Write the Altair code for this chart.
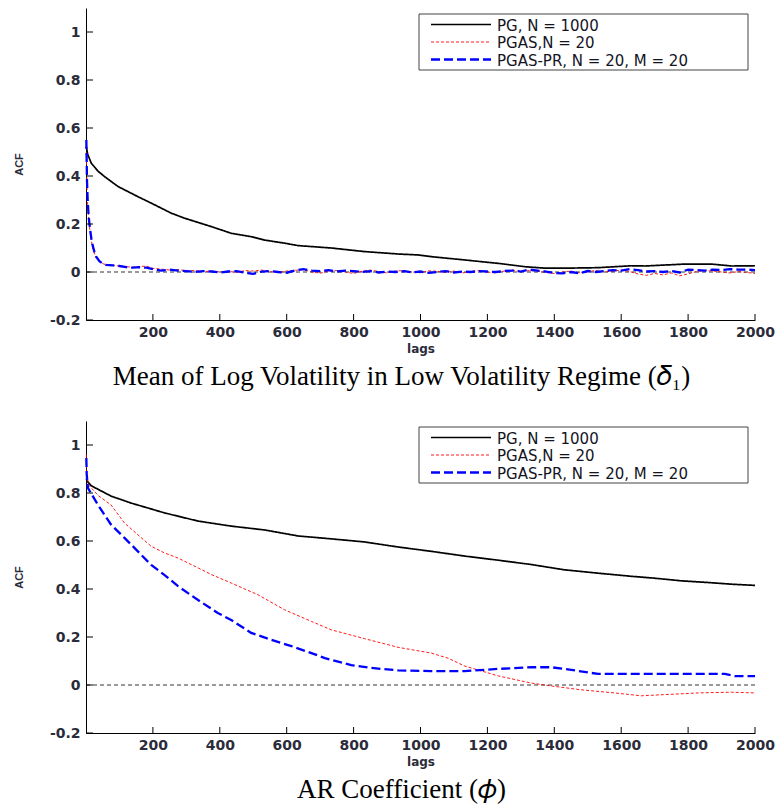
import altair as alt
import pandas as pd

SERIES = ["PG, N = 1000", "PGAS,N = 20", "PGAS-PR, N = 20, M = 20"]
COLORS = ["#000000", "#ff0000", "#0000ff"]
DASHES = [[1, 0], [3, 2], [9, 4]]
WIDTHS = [1.7, 0.9, 2.3]

X_TICKS = [200, 400, 600, 800, 1000, 1200, 1400, 1600, 1800, 2000]
Y_TICKS = [-0.2, 0, 0.2, 0.4, 0.6, 0.8, 1]

TITLE_TOP = "Mean of Log Volatility in Low Volatility Regime (\U0001D6FF\u2081)"
TITLE_BOTTOM = "AR Coefficient (\U0001D719)"

# ---- Panel 1: delta_1 ----
top_pg_lag = [1, 5, 16, 36, 56, 96, 155, 195, 255, 295, 375, 435, 495, 534, 594, 634,
              733, 833, 933, 993, 1032, 1133, 1232, 1312, 1372, 1432, 1531, 1630, 1670,
              1790, 1870, 1930, 2000]
top_pg_acf = [0.522, 0.49, 0.453, 0.42, 0.397, 0.356, 0.314, 0.287, 0.245, 0.224, 0.189,
              0.161, 0.147, 0.133, 0.12, 0.110, 0.1, 0.085, 0.075, 0.071, 0.064, 0.05,
              0.036, 0.022, 0.016, 0.016, 0.018, 0.026, 0.025, 0.033, 0.033, 0.025, 0.026]

top_head_lag = [1, 3, 5, 8, 12, 16, 20, 25, 30, 40, 50, 60, 80, 100, 120, 140, 160, 180, 200]
top_tail_lag = [225, 250, 275, 300, 325, 350, 375, 400, 425, 450, 475, 500, 525, 550, 575,
                600, 625, 650, 675, 700, 725, 750, 775, 800, 825, 850, 875, 900, 925, 950,
                975, 1000, 1025, 1050, 1075, 1100, 1125, 1150, 1175, 1200, 1225, 1250, 1275,
                1300, 1325, 1350, 1375, 1400, 1425, 1450, 1475, 1500, 1525, 1550, 1575, 1600,
                1625, 1650, 1675, 1700, 1725, 1750, 1775, 1800, 1825, 1850, 1875, 1900, 1925,
                1950, 1975, 2000]

top_pgas_acf = [0.50, 0.35, 0.28, 0.22, 0.17, 0.13, 0.10, 0.08, 0.06, 0.045, 0.035, 0.03,
                0.027, 0.025, 0.022, 0.02, 0.022, 0.025, 0.015,
                0.012, 0.008, 0.01, 0.005, 0.006, 0.002, 0.004, 0.0, 0.003, -0.002, 0.006,
                0.004, 0.008, 0.002, -0.003, 0.004, 0.007, 0.01, 0.0, -0.005, 0.004, 0.006,
                0.0, -0.006, 0.003, 0.008, 0.002, -0.004, 0.004, 0.006, 0.0, -0.003, 0.005,
                0.003, -0.002, 0.004, -0.004, 0.002, 0.006, 0.0, -0.004, 0.004, 0.008, 0.002,
                0.006, 0.004, -0.002, -0.006, 0.0, 0.004, -0.004, 0.002, 0.006, 0.0, 0.004,
                0.008, 0.002, -0.008, -0.014, -0.006, -0.012, -0.004, -0.016, -0.008, 0.002,
                0.006, 0.004, 0.0, -0.004, 0.002, -0.002, -0.006]

top_pgaspr_acf = [0.55, 0.38, 0.30, 0.23, 0.18, 0.14, 0.11, 0.085, 0.065, 0.045, 0.035, 0.03,
                  0.028, 0.025, 0.02, 0.018, 0.02, 0.018, 0.012,
                  0.006, 0.01, 0.006, 0.004, 0.0, 0.004, 0.002, -0.002, 0.002, 0.004, -0.003,
                  -0.008, 0.002, 0.004, 0.0, -0.003, 0.006, 0.012, 0.006, 0.004, 0.008, 0.002,
                  0.006, 0.004, 0.0, 0.004, -0.002, 0.002, 0.0, 0.004, -0.002, 0.002, -0.004,
                  0.0, 0.004, -0.002, 0.002, 0.0, 0.004, 0.002, 0.0, 0.004, 0.006, 0.002, 0.01,
                  0.006, 0.002, -0.004, -0.006, 0.0, -0.006, 0.004, 0.0, 0.004, 0.008, 0.006,
                  0.012, 0.008, 0.002, 0.004, 0.0, 0.004, -0.002, 0.01, 0.008, 0.006, 0.01,
                  0.008, 0.012, 0.01, 0.01, 0.008]

# ---- Panel 2: phi ----
bot_pg_lag = [1, 3, 16, 75, 135, 235, 335, 434, 534, 634, 733, 833, 933, 1032, 1133, 1232,
              1331, 1430, 1530, 1630, 1700, 1780, 1860, 1930, 2000]
bot_pg_acf = [0.86, 0.85, 0.83, 0.787, 0.758, 0.717, 0.683, 0.662, 0.646, 0.621, 0.609,
              0.596, 0.575, 0.557, 0.537, 0.52, 0.502, 0.48, 0.466, 0.453, 0.445, 0.434,
              0.427, 0.42, 0.415]

bot_pgas_lag = [1, 2, 4, 10, 36, 75, 115, 155, 195, 235, 275, 335, 375, 434, 514, 594, 674,
                733, 833, 933, 1032, 1082, 1132, 1232, 1331, 1391, 1480, 1580, 1660, 1730,
                1830, 1930, 2000]
bot_pgas_acf = [0.96, 0.9, 0.86, 0.83, 0.79, 0.75, 0.675, 0.626, 0.578, 0.55, 0.529, 0.488,
                0.46, 0.425, 0.376, 0.313, 0.265, 0.23, 0.193, 0.157, 0.133, 0.112, 0.079,
                0.038, 0.008, -0.004, -0.02, -0.033, -0.045, -0.04, -0.033, -0.03, -0.033]

bot_pgaspr_lag = [1, 2, 6, 36, 75, 115, 155, 195, 235, 275, 335, 394, 434, 494, 554, 614, 674,
                  714, 793, 853, 933, 1032, 1132, 1232, 1331, 1391, 1451, 1531, 1630, 1780,
                  1910, 1940, 2000]
bot_pgaspr_acf = [0.946, 0.88, 0.82, 0.75, 0.668, 0.613, 0.557, 0.5, 0.458, 0.412, 0.354, 0.3,
                  0.271, 0.217, 0.188, 0.162, 0.133, 0.112, 0.083, 0.071, 0.061, 0.058, 0.058,
                  0.067, 0.074, 0.074, 0.063, 0.046, 0.046, 0.046, 0.046, 0.037, 0.037]

W, H = 669, 312

Y_LABEL_EXPR = "datum.value < 0 ? '-' + format(-datum.value, '~g') : format(datum.value, '~g')"
X_LABEL_EXPR = "format(datum.value, 'd')"


def panel(series_data, title):
    xs = alt.Scale(domain=[0, 2000], nice=False, zero=False)
    ys = alt.Scale(domain=[-0.2, 1.1], nice=False, zero=False)
    x_axis = alt.Axis(values=X_TICKS, title="lags", tickSize=0, grid=False, labelFlush=False,
                      labelPadding=5, titlePadding=4, labelExpr=X_LABEL_EXPR)
    y_axis = alt.Axis(values=Y_TICKS, title="ACF", tickSize=0, grid=False, labelFlush=False,
                      labelPadding=6, titlePadding=25, labelExpr=Y_LABEL_EXPR,
                      titleFont="Liberation Sans", titleFontWeight="bold", titleFontSize=11)
    layers = []
    zero = alt.Chart(pd.DataFrame({"v": [0]})).mark_rule(
        color="black", strokeDash=[4, 3], strokeWidth=0.8
    ).encode(
        x=alt.value(0),
        x2=alt.value(W),
        y=alt.Y("v:Q", scale=ys, axis=y_axis),
    )
    layers.append(zero)
    for i, (lags, vals) in enumerate(series_data):
        d = pd.DataFrame({"lag": lags, "acf": vals})
        layers.append(
            alt.Chart(d).mark_line(color=COLORS[i], strokeDash=DASHES[i], strokeWidth=WIDTHS[i],
                                   interpolate="linear").encode(
                x=alt.X("lag:Q", scale=xs, axis=x_axis),
                y=alt.Y("acf:Q", scale=ys, axis=y_axis),
                order=alt.Order("lag:Q"),
            )
        )
    # inward ticks
    layers.append(alt.Chart(pd.DataFrame({"v": Y_TICKS})).mark_rule(color="black", strokeWidth=1).encode(
        y=alt.Y("v:Q", scale=ys, axis=y_axis), x=alt.value(0), x2=alt.value(7)))
    layers.append(alt.Chart(pd.DataFrame({"v": X_TICKS})).mark_rule(color="black", strokeWidth=1).encode(
        x=alt.X("v:Q", scale=xs, axis=x_axis), y=alt.value(H), y2=alt.value(H - 6)))
    # legend box (inside, top-right)
    one = pd.DataFrame({"k": [0]})
    layers.append(alt.Chart(one).mark_rect(fill="white", stroke="#444", strokeWidth=1).encode(
        x=alt.value(333), x2=alt.value(662), y=alt.value(6), y2=alt.value(62)))
    row_y = [16.5, 34, 51.5]
    for i, name in enumerate(SERIES):
        layers.append(alt.Chart(one).mark_rule(color=COLORS[i], strokeDash=DASHES[i],
                                               strokeWidth=WIDTHS[i]).encode(
            x=alt.value(345), x2=alt.value(405), y=alt.value(row_y[i])))
        layers.append(alt.Chart(one).mark_text(align="left", baseline="middle", font="DejaVu Sans",
                                               fontSize=15, color="#14141f").encode(
            x=alt.value(411), y=alt.value(row_y[i] + 1), text=alt.value(name)))
    return alt.layer(*layers).properties(
        width=W, height=H,
        title=alt.TitleParams(text=title, orient="bottom", anchor="middle", font="Liberation Serif",
                              fontSize=27, fontWeight="normal", color="black", offset=10, dx=-19),
    )


top = panel([(top_pg_lag, top_pg_acf),
             (top_head_lag + top_tail_lag, top_pgas_acf),
             (top_head_lag + top_tail_lag, top_pgaspr_acf)], TITLE_TOP)
bottom = panel([(bot_pg_lag, bot_pg_acf),
                (bot_pgas_lag, bot_pgas_acf),
                (bot_pgaspr_lag, bot_pgaspr_acf)], TITLE_BOTTOM)

chart = alt.vconcat(top, bottom, spacing=31).properties(
    padding={"left": 13, "top": 8, "right": 4, "bottom": 5}
).configure_view(stroke=None).configure_axis(
    domainColor="black", domainWidth=1,
    labelFont="DejaVu Sans", labelFontSize=14, labelFontWeight="bold", labelColor="#2b2b3a",
    titleFont="DejaVu Sans", titleFontSize=12, titleFontWeight="bold", titleColor="#2b2b3a",
)

chart.save("out.html", embed_options={"renderer": "svg", "actions": False})
